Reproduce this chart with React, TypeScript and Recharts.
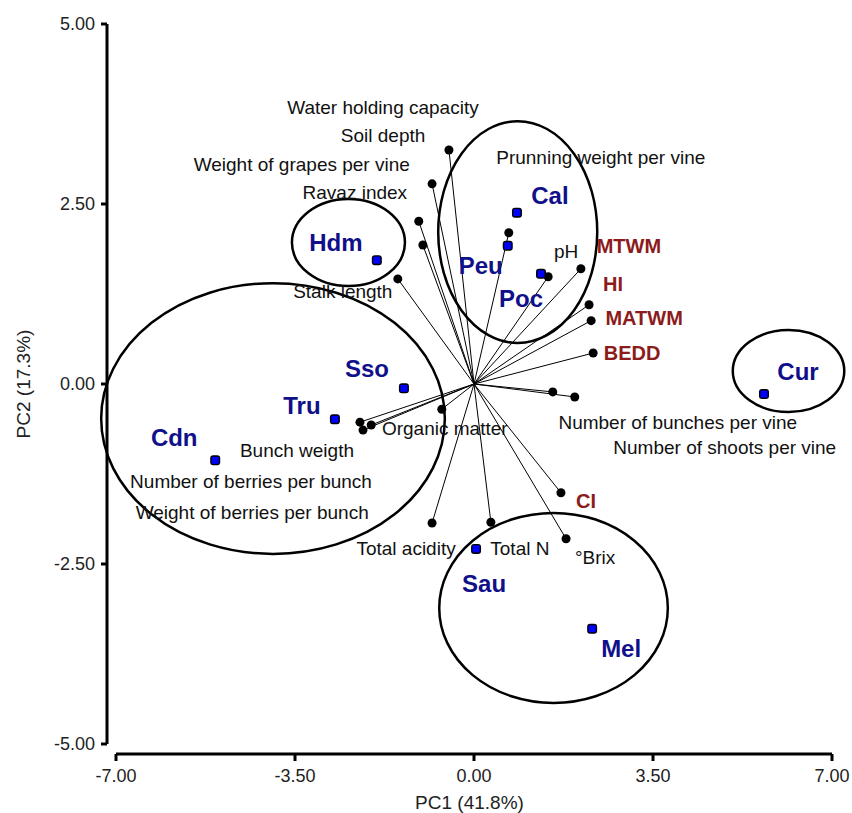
import { ScatterChart, Scatter, XAxis, YAxis, ReferenceLine, ReferenceArea } from 'recharts';

// cultivar scores (blue squares)
const cultivars = ['Hdm', 'Cal', 'Peu', 'Poc', 'Sso', 'Tru', 'Cdn', 'Cur', 'Sau', 'Mel'];
const cultivarPC1 = [-1.90, 0.84, 0.66, 1.31, -1.37, -2.72, -5.06, 5.67, 0.04, 2.31];
const cultivarPC2 = [1.72, 2.38, 1.92, 1.53, -0.06, -0.49, -1.06, -0.14, -2.29, -3.40];

// variable loadings (black dots, drawn as vectors from the origin)
const variables = [
    'Water holding capacity', 'Soil depth', 'Weight of grapes per vine', 'Ravaz index', 'Stalk length',
    'Prunning weight per vine', 'pH', 'MTWM', 'HI', 'MATWM', 'BEDD',
    'Number of bunches per vine', 'Number of shoots per vine', 'CI', '°Brix', 'Total N', 'Total acidity',
    'Organic matter', 'Bunch weigth', 'Number of berries per bunch', 'Weight of berries per bunch',
];
const variablePC1 = [-0.49, -0.82, -1.08, -1.00, -1.49, 0.68, 1.45, 2.09, 2.25, 2.29, 2.33, 1.54, 1.97, 1.70, 1.80, 0.33, -0.82, -0.63, -2.23, -2.17, -2.01];
const variablePC2 = [3.25, 2.78, 2.26, 1.93, 1.46, 2.10, 1.49, 1.60, 1.10, 0.88, 0.43, -0.11, -0.18, -1.51, -2.15, -1.92, -1.93, -0.35, -0.53, -0.64, -0.57];
const climateIndices = ['MTWM', 'HI', 'MATWM', 'BEDD', 'CI'];

// group ellipses (extent on PC1 / PC2)
const groups = ['Hdm', 'Cal-Peu-Poc', 'Cdn-Tru-Sso', 'Cur', 'Sau-Mel'];
const groupPC1Min = [-3.56, -0.70, -7.29, 5.06, -0.68];
const groupPC1Max = [-1.35, 2.41, -0.57, 7.24, 3.79];
const groupPC2Min = [1.36, 0.57, -2.36, -0.39, -4.43];
const groupPC2Max = [2.57, 3.65, 1.40, 0.75, -1.79];

const xTicks = [-7, -3.5, 0, 3.5, 7];
const yTicks = [-5, -2.5, 0, 2.5, 5];

// label offsets in pixels from the marker
const LABEL_OFFSET: Record<string, [number, number]> = {
    'Hdm': [-41, -18], 'Cal': [33, -17], 'Peu': [-27, 20], 'Poc': [-20, 25], 'Sso': [-37, -20],
    'Tru': [-33, -14], 'Cdn': [-41, -23], 'Cur': [34, -23], 'Sau': [8, 35], 'Mel': [29, 20],
    'Water holding capacity': [-66, -43], 'Soil depth': [-49, -48], 'Weight of grapes per vine': [-117, -57],
    'Ravaz index': [-68, -53], 'Stalk length': [-55, 13], 'Prunning weight per vine': [92, -75],
    'pH': [18, -25], 'MTWM': [48, -23], 'HI': [24, -21], 'MATWM': [53, -3], 'BEDD': [39, 0],
    'Number of bunches per vine': [125, 31], 'Number of shoots per vine': [150, 51], 'CI': [25, 8],
    '°Brix': [29, 19], 'Total N': [29, 26], 'Total acidity': [-26, 26], 'Organic matter': [3, 19],
    'Bunch weigth': [-63, 28], 'Number of berries per bunch': [-112, 51], 'Weight of berries per bunch': [-119, 87],
};

const NAVY = '#10108a';
const DARK_RED = '#8c1c1c';

const cultivarData = cultivars.map((name, i) => ({ name, x: cultivarPC1[i], y: cultivarPC2[i] }));
const variableData = variables.map((name, i) => ({ name, x: variablePC1[i], y: variablePC2[i] }));

const VariableDot = (props: any) => {
    const { cx, cy, payload } = props;
    const [dx, dy] = LABEL_OFFSET[payload.name] ?? [0, 0];
    const red = climateIndices.includes(payload.name);
    return (
        <g>
            <circle cx={cx} cy={cy} r={4.5} fill="#000" />
            <text x={cx + dx} y={cy + dy} textAnchor="middle" dominantBaseline="central"
                fontSize={red ? 20 : 19} fontWeight={red ? 'bold' : 'normal'} fill={red ? DARK_RED : '#111'}>
                {payload.name}
            </text>
        </g>
    );
};

const CultivarDot = (props: any) => {
    const { cx, cy, payload } = props;
    const [dx, dy] = LABEL_OFFSET[payload.name] ?? [0, 0];
    return (
        <g>
            <rect x={cx - 5} y={cy - 5} width={10} height={10} rx={3} fill="#000" />
            <rect x={cx - 3.5} y={cy - 3.5} width={7} height={7} fill="#0000ff" />
            <text x={cx + dx} y={cy + dy} textAnchor="middle" dominantBaseline="central"
                fontSize={24} fontWeight="bold" fill={NAVY}>
                {payload.name}
            </text>
        </g>
    );
};

const EllipseShape = (p: any) => (
    <ellipse cx={p.x + p.width / 2} cy={p.y + p.height / 2} rx={Math.abs(p.width) / 2} ry={Math.abs(p.height) / 2}
        fill="none" stroke="#000" strokeWidth={2.5} />
);

const YLabel = (props: any) => {
    const { viewBox } = props;
    const x = 23;
    const y = viewBox.y + (viewBox.height - 10) / 2;
    return (
        <text x={x} y={y} transform={`rotate(-90, ${x}, ${y})`} textAnchor="middle" dominantBaseline="central"
            fontSize={19} fill="#222">PC2 (17.3%)</text>
    );
};

export default function App() {
    return (
        <div style={{ position: 'absolute', left: 0, top: 0, fontFamily: '"Liberation Sans", Arial, sans-serif', background: '#fff' }}>
            <ScatterChart width={852} height={813} margin={{ top: 24, right: 20, bottom: 0, left: 0 }}>
                <XAxis type="number" dataKey="x" domain={[-7, 7]} ticks={xTicks} interval={0}
                    tickFormatter={(v: number) => v.toFixed(2)} height={59} padding={{ left: 9, right: 0 }}
                    axisLine={{ stroke: '#000', strokeWidth: 3, strokeDasharray: '0 9 716 100' }}
                    tickLine={{ stroke: '#000', strokeWidth: 3 }} tickSize={7} tickMargin={8}
                    tick={{ fill: '#222', fontSize: 18 }}
                    label={{ value: 'PC1 (41.8%)', position: 'insideBottom', offset: 4, fill: '#222', fontSize: 19 }} />
                <YAxis type="number" dataKey="y" domain={[-5, 5]} ticks={yTicks} interval={0}
                    tickFormatter={(v: number) => v.toFixed(2)} width={107} padding={{ top: 0, bottom: 10 }}
                    axisLine={{ stroke: '#000', strokeWidth: 3, strokeDasharray: '720 100' }}
                    tickLine={{ stroke: '#000', strokeWidth: 3 }} tickSize={6} tickMargin={6}
                    tick={{ fill: '#222', fontSize: 18 }}
                    label={<YLabel />} />
                {groups.map((g, i) => (
                    <ReferenceArea key={g} x1={groupPC1Min[i]} x2={groupPC1Max[i]} y1={groupPC2Min[i]} y2={groupPC2Max[i]}
                        ifOverflow="visible" shape={EllipseShape} />
                ))}
                {variableData.map((v) => (
                    <ReferenceLine key={v.name} segment={[{ x: 0, y: 0 }, { x: v.x, y: v.y }]} stroke="#000" strokeWidth={1} />
                ))}
                <Scatter data={variableData} shape={VariableDot} isAnimationActive={false} />
                <Scatter data={cultivarData} shape={CultivarDot} isAnimationActive={false} />
            </ScatterChart>
        </div>
    );
}
